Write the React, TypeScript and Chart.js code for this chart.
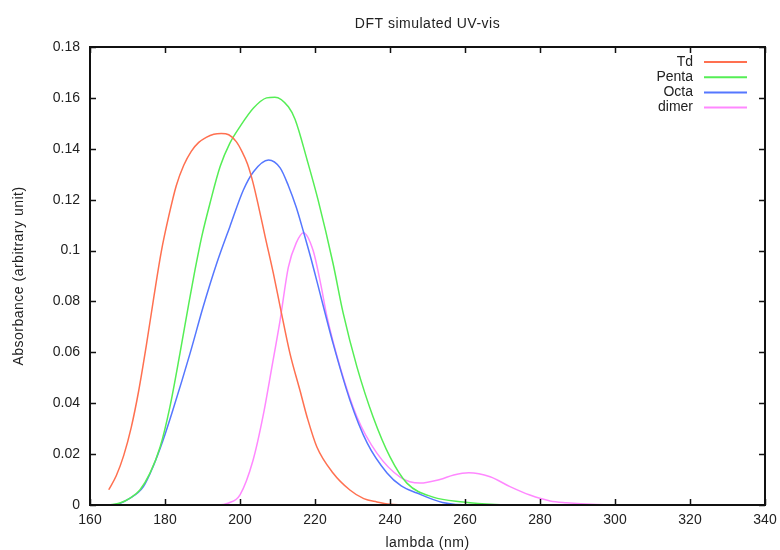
import React, { useEffect, useRef } from "react";
import { Chart, registerables } from "chart.js";

Chart.register(...registerables);

const titleText = "DFT simulated UV-vis";
const xAxisTitle = "lambda (nm)";
const yAxisTitle = "Absorbance (arbitrary unit)";

const xTicks = [160, 180, 200, 220, 240, 260, 280, 300, 320, 340];
const xTickLabels = ["160", "180", "200", "220", "240", "260", "280", "300", "320", "340"];
const yTicks = [0, 0.02, 0.04, 0.06, 0.08, 0.1, 0.12, 0.14, 0.16, 0.18];
const yTickLabels = ["0", "0.02", "0.04", "0.06", "0.08", "0.1", "0.12", "0.14", "0.16", "0.18"];

const seriesNames = ["Td", "Penta", "Octa", "dimer"];
const seriesColors = ["#ff7050", "#55ee55", "#5577ff", "#ff88ff"];

const tdX = [165, 167, 169, 171, 173, 175, 177, 179, 181, 183, 185, 187, 189, 191, 193, 195, 197, 199, 200.5, 202, 203.5, 205, 206.7, 208.9, 210.7, 213.3, 216, 218, 220.5, 224.8, 229.3, 233, 236.5, 240, 245, 340];
const tdY = [0.006, 0.0115, 0.0195, 0.0305, 0.045, 0.0625, 0.0815, 0.0995, 0.1135, 0.1255, 0.1335, 0.139, 0.1425, 0.1445, 0.1457, 0.146, 0.1455, 0.1428, 0.139, 0.134, 0.1265, 0.117, 0.1055, 0.091, 0.078, 0.0597, 0.045, 0.034, 0.0228, 0.0126, 0.0059, 0.0025, 0.0012, 0.0003, 0, 0];

const pentaX = [165, 168, 170.7, 173.3, 176, 178.7, 181.3, 184, 186.2, 188, 189.8, 192, 194.7, 197.3, 200, 203.6, 207.1, 209.3, 212.9, 214.7, 217.9, 220.8, 224.8, 227.5, 231.2, 235.5, 240, 244.5, 251.5, 259.5, 268, 275, 340];
const pentaY = [0, 0.0008, 0.0027, 0.0059, 0.0125, 0.0228, 0.0385, 0.0597, 0.078, 0.0924, 0.1055, 0.1186, 0.133, 0.1422, 0.1487, 0.156, 0.16, 0.1603, 0.1565, 0.1515, 0.1356, 0.12, 0.095, 0.0755, 0.0542, 0.0346, 0.0189, 0.0086, 0.0031, 0.0012, 0.0002, 0, 0];

const octaX = [165, 166, 170.7, 174.2, 176.8, 179.5, 182.1, 186.7, 190.2, 193.8, 197.3, 200.9, 203.6, 207.6, 210.7, 212.9, 215, 217, 219, 220.5, 224.8, 229.3, 233.9, 239.2, 243, 247.2, 254, 262, 340];
const octaY = [0, 0, 0.0027, 0.0071, 0.015, 0.0255, 0.0373, 0.0597, 0.078, 0.095, 0.1094, 0.1238, 0.131, 0.1356, 0.1325, 0.1255, 0.117, 0.107, 0.0965, 0.088, 0.0636, 0.0413, 0.0244, 0.0126, 0.0075, 0.0047, 0.001, 0, 0];

const dimerX = [165, 194, 197, 200, 203.5, 206.1, 208.5, 210.7, 212.9, 215, 216.9, 219.5, 221.5, 223.2, 226.7, 231.2, 236.5, 242.7, 248, 253.3, 257, 261, 266.7, 272, 277.3, 282.7, 287, 295, 305, 340];
const dimerY = [0, 0, 0.0008, 0.004, 0.0177, 0.0346, 0.0542, 0.0727, 0.0935, 0.103, 0.107, 0.1, 0.087, 0.074, 0.0542, 0.0346, 0.0204, 0.011, 0.0086, 0.01, 0.0118, 0.0127, 0.0111, 0.0072, 0.0039, 0.0016, 0.0009, 0.0002, 0, 0];

const seriesX = [tdX, pentaX, octaX, dimerX];
const seriesY = [tdY, pentaY, octaY, dimerY];

const FONT = "Liberation Sans, Arial, sans-serif";

const decorPlugin = {
  id: "decor",
  afterDraw(chart: any) {
    const { ctx, chartArea } = chart;
    const { left, right, top, bottom } = chartArea;
    const xs = chart.scales.x;
    const ys = chart.scales.y;
    ctx.save();
    ctx.strokeStyle = "#111";
    ctx.lineWidth = 2;
    ctx.strokeRect(left, top, right - left, bottom - top);
    ctx.lineWidth = 1.5;
    const tl = 6;
    ctx.beginPath();
    xTicks.forEach((v) => {
      const px = Math.round(xs.getPixelForValue(v)) + 0.5;
      ctx.moveTo(px, bottom);
      ctx.lineTo(px, bottom - tl);
      ctx.moveTo(px, top);
      ctx.lineTo(px, top + tl);
    });
    yTicks.forEach((v) => {
      const py = Math.round(ys.getPixelForValue(v)) + 0.5;
      ctx.moveTo(left, py);
      ctx.lineTo(left + tl, py);
      ctx.moveTo(right, py);
      ctx.lineTo(right - tl, py);
    });
    ctx.stroke();

    ctx.fillStyle = "#222";
    ctx.font = `14px ${FONT}`;
    ctx.textAlign = "center";
    ctx.textBaseline = "alphabetic";
    try { (ctx as any).letterSpacing = "0.5px"; } catch (e) {}
    const cx = (left + right) / 2;
    ctx.fillText(titleText, cx, 28);
    ctx.fillText(xAxisTitle, cx, 547);
    ctx.save();
    ctx.translate(23, (top + bottom) / 2);
    ctx.rotate(-Math.PI / 2);
    ctx.fillText(yAxisTitle, 0, 0);
    ctx.restore();
    try { (ctx as any).letterSpacing = "0px"; } catch (e) {}

    const rowY0 = 62;
    const rowStep = 15.2;
    chart.data.datasets.forEach((ds: any, i: number) => {
      const y = rowY0 + i * rowStep;
      ctx.fillStyle = "#222";
      ctx.textAlign = "right";
      ctx.textBaseline = "middle";
      ctx.font = `14px ${FONT}`;
      ctx.fillText(ds.label, 693, y);
      ctx.strokeStyle = ds.borderColor;
      ctx.lineWidth = 2;
      ctx.beginPath();
      ctx.moveTo(704, y);
      ctx.lineTo(747, y);
      ctx.stroke();
    });
    ctx.restore();
  },
};

export default function App() {
  const ref = useRef<HTMLCanvasElement | null>(null);
  useEffect(() => {
    if (!ref.current) return;
    const datasets = seriesNames.map((name, i) => ({
      label: name,
      data: seriesX[i].map((x, j) => ({ x, y: seriesY[i][j] })),
      borderColor: seriesColors[i],
      backgroundColor: seriesColors[i],
      borderWidth: 1.5,
      pointRadius: 0,
      cubicInterpolationMode: "monotone" as const,
      fill: false,
    }));
    const chart = new Chart(ref.current, {
      type: "line",
      data: { datasets },
      plugins: [decorPlugin],
      options: {
        animation: false,
        responsive: false,
        devicePixelRatio: 1,
        layout: { padding: { left: 0, top: 47, right: 15, bottom: 0 } },
        plugins: {
          legend: { display: false },
          title: { display: false },
          tooltip: { enabled: false },
        },
        scales: {
          x: {
            type: "linear",
            min: 160,
            max: 340,
            afterBuildTicks: (scale: any) => {
              scale.ticks = xTicks.map((v) => ({ value: v }));
            },
            afterFit: (scale: any) => {
              scale.height = 45;
              scale.paddingRight = 0;
              scale.paddingLeft = 0;
            },
            ticks: {
              padding: 7,
              color: "#222",
              font: { family: FONT, size: 14 },
              maxRotation: 0,
              autoSkip: false,
              callback: (v: any) => {
                const k = xTicks.indexOf(Number(v));
                return k >= 0 ? xTickLabels[k] : "";
              },
            },
            grid: { display: false, drawTicks: false },
            border: { display: false },
          },
          y: {
            type: "linear",
            min: 0,
            max: 0.18,
            afterBuildTicks: (scale: any) => {
              scale.ticks = yTicks.map((v) => ({ value: v }));
            },
            afterFit: (scale: any) => {
              scale.width = 90;
              scale.paddingTop = 0;
              scale.paddingBottom = 0;
            },
            ticks: {
              padding: 10,
              color: "#222",
              font: { family: FONT, size: 14 },
              autoSkip: false,
              callback: (v: any) => {
                let k = -1;
                yTicks.forEach((t, idx) => {
                  if (Math.abs(t - Number(v)) < 1e-9) k = idx;
                });
                return k >= 0 ? yTickLabels[k] : "";
              },
            },
            grid: { display: false, drawTicks: false },
            border: { display: false },
          },
        },
      },
    });
    return () => chart.destroy();
  }, []);
  return (
    <div style={{ position: "absolute", left: 0, top: 0, width: 780, height: 550, background: "#fff" }}>
      <canvas ref={ref} width={780} height={550} style={{ display: "block", width: 780, height: 550 }} />
    </div>
  );
}
